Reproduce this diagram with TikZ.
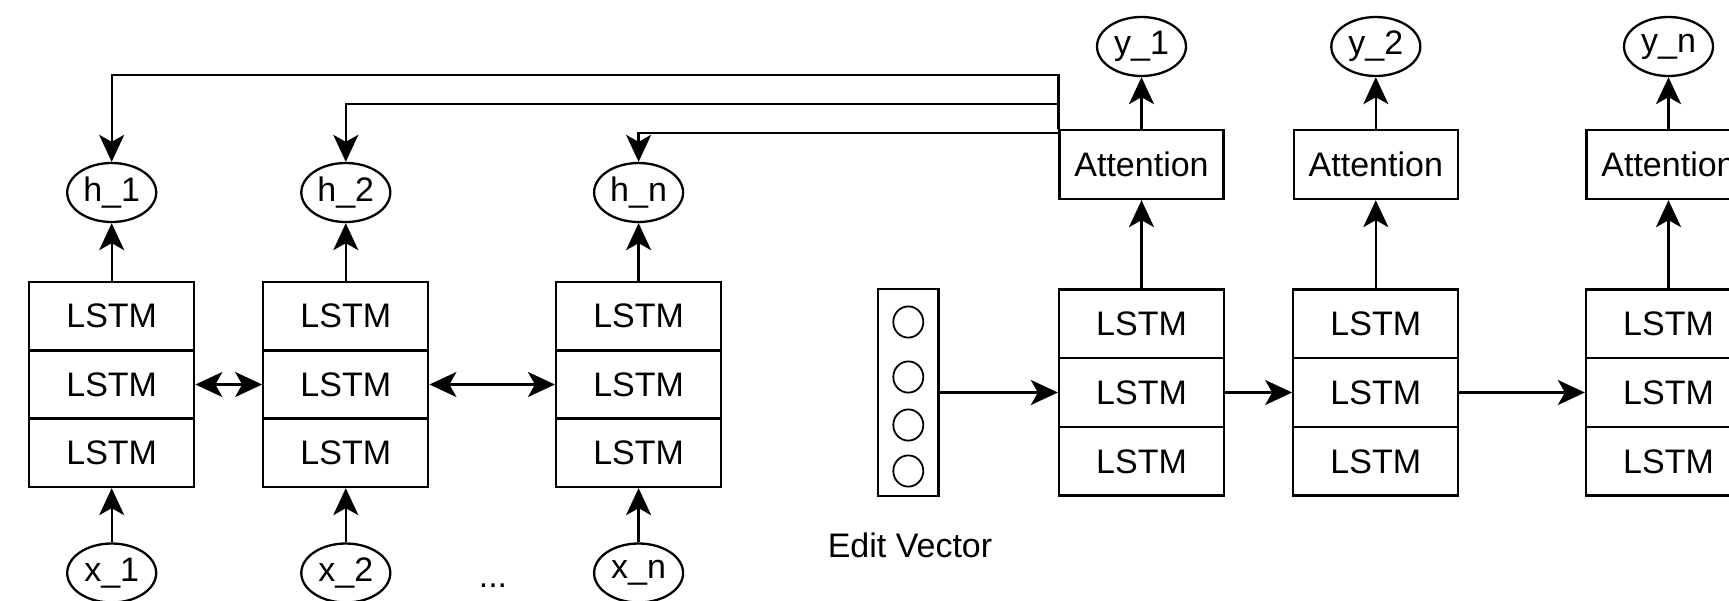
\documentclass[tikz,border=0pt]{standalone}
\usepackage{fontspec}
\setmainfont{Liberation Sans}
\usetikzlibrary{arrows.meta,shapes.geometric,calc}
\begin{document}
\begin{tikzpicture}[x=0.5pt,y=-0.5pt,
  every node/.style={font=\fontsize{17}{20}\selectfont},
  lstm/.style={draw,line width=1.15pt,rectangle,minimum width=82.5pt,minimum height=34.2pt,inner sep=0pt},
  att/.style={draw,line width=1.15pt,rectangle,minimum width=82pt,minimum height=34.5pt,inner sep=0pt},
  var/.style={draw,line width=1.15pt,ellipse,minimum width=44.5pt,minimum height=29.5pt,inner sep=0pt},
  dot/.style={draw,line width=0.9pt,ellipse,minimum width=15pt,minimum height=15.6pt,inner sep=0pt},
  evbox/.style={draw,line width=1.15pt,rectangle,minimum width=30.3pt,minimum height=103.2pt,inner sep=0pt},
  arr/.style={line width=1.15pt,-{Stealth[length=13.5pt,width=12.5pt,inset=3.5pt]}},
  arrb/.style={line width=1.15pt,{Stealth[length=13.5pt,width=12.5pt,inset=3.5pt]}-{Stealth[length=13.5pt,width=12.5pt,inset=3.5pt]}}]
\useasboundingbox (0,0) rectangle (1729,600);

% left stacks
\foreach \n/\x in {1/111.7,2/345.8,n/638.6}{
  \node[lstm] (l\n a) at (\x,316.2) {LSTM};
  \node[lstm] (l\n b) at (\x,384.5) {LSTM};
  \node[lstm] (l\n c) at (\x,452.8) {LSTM};
}
\node[var] (h1) at (111.7,192.5) {h\_1};
\node[var] (h2) at (345.8,192.5) {h\_2};
\node[var] (hn) at (638.6,192.5) {h\_n};
\node[var] (x1) at (111.7,573) {x\_1};
\node[var] (x2) at (345.8,573) {x\_2};
\node[var] (xn) at (638.6,573) {x\_n};
\node[anchor=base] (dots) at (493,587) {...};

\foreach \n in {1,2,n}{
  \draw[arr] (l\n a.north) -- (h\n.south);
  \draw[arr] (x\n.north) -- (l\n c.south);
}
\draw[arrb] (l1b.east) -- (l2b.west);
\draw[arrb] (l2b.east) -- (lnb.west);

% right stacks
\foreach \n/\x in {1/1141.5,2/1375.8,3/1668.5}{
  \node[lstm] (r\n a) at (\x,323.7) {LSTM};
  \node[lstm] (r\n b) at (\x,392.5) {LSTM};
  \node[lstm] (r\n c) at (\x,461.3) {LSTM};
}
\node[att] (att1) at (1141.5,164.5) {Attention};
\node[att] (att2) at (1375.8,164.5) {Attention};
\node[att] (att3) at (1668.5,164.5) {Attention};
\node[var] (y1) at (1141.5,46.5) {y\_1};
\node[var] (y2) at (1375.8,46.5) {y\_2};
\node[var] (y3) at (1668.5,46.5) {y\_n};
\foreach \n in {1,2,3}{
  \draw[arr] (r\n a.north) -- (att\n.south);
  \draw[arr] (att\n.north) -- (y\n.south);
}
\draw[arr] (r1b.east) -- (r2b.west);
\draw[arr] (r2b.east) -- (r3b.west);

% edit vector
\node[evbox] (ev) at (908.3,392.5) {};
\node[dot] (c1) at (908.3,322) {};
\node[dot] (c2) at (908.3,377) {};
\node[dot] (c3) at (908.3,425) {};
\node[dot] (c4) at (908.3,471) {};
\node (evl) at (910,545) {Edit Vector};
\draw[arr] (ev.east) -- (r1b.west);

% feedback connectors
\coordinate (f3) at ($(att1.north west)+(0,4)$);
\draw[arr] (att1.north west) -- ++(0,-54) -| (h1.north);
\draw[arr] (att1.north west) -- ++(0,-25) -| (h2.north);
\draw[arr] (f3) -| (hn.north);
\end{tikzpicture}
\end{document}
